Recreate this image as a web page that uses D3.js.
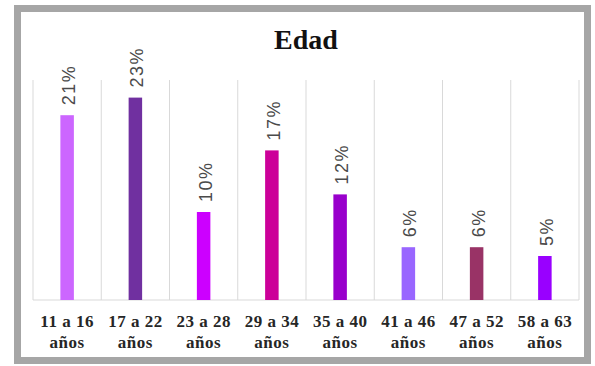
<!DOCTYPE html>
<html>
<head>
<meta charset="utf-8">
<script src="https://cdn.jsdelivr.net/npm/d3@7"></script>
<style>
html,body{margin:0;padding:0;background:#fff;}
svg{display:block;}
</style>
</head>
<body>
<svg id="chart" width="595" height="366"></svg>
<script>
const title = "Edad";
const categories = ["11 a 16", "17 a 22", "23 a 28", "29 a 34", "35 a 40", "41 a 46", "47 a 52", "58 a 63"];
const unitLabel = "años";
const values = [21, 23, 10, 17, 12, 6, 6, 5];
const valueLabels = ["21%", "23%", "10%", "17%", "12%", "6%", "6%", "5%"];
const colors = ["#cc66ff", "#7030a0", "#cc00ff", "#cc0099", "#9900cc", "#9966ff", "#993366", "#9900ff"];
const yMax = 25;

const svg = d3.select("#chart");

// frame
svg.append("rect")
  .attr("x", 17.5).attr("y", 8.5)
  .attr("width", 570).attr("height", 352)
  .attr("fill", "#fff")
  .attr("stroke", "#a6a6a6")
  .attr("stroke-width", 7);

const x = d3.scaleBand().domain(categories).range([33, 579]).padding(0);
const y = d3.scaleLinear().domain([0, yMax]).range([300, 80]);

// vertical gridlines at category boundaries
const bounds = categories.map(c => x(c)).concat([x.range()[1]]);
svg.append("g").selectAll("line").data(bounds).join("line")
  .attr("x1", d => d).attr("x2", d => d)
  .attr("y1", y(yMax)).attr("y2", y(0))
  .attr("stroke", "#d9d9d9").attr("stroke-width", 1);

// baseline
svg.append("line")
  .attr("x1", x.range()[0]).attr("x2", x.range()[1])
  .attr("y1", y(0)).attr("y2", y(0))
  .attr("stroke", "#d9d9d9").attr("stroke-width", 1);

const barW = 13.5;
svg.append("g").selectAll("rect").data(values).join("rect")
  .attr("x", (d, i) => x(categories[i]) + x.bandwidth() / 2 - barW / 2)
  .attr("y", d => y(d))
  .attr("width", barW)
  .attr("height", d => y(0) - y(d))
  .attr("fill", (d, i) => colors[i]);

// value labels, rotated
svg.append("g").selectAll("text").data(values).join("text")
  .attr("transform", (d, i) => `translate(${x(categories[i]) + x.bandwidth() / 2 + 8},${y(d) - 10}) rotate(-90)`)
  .attr("text-anchor", "start")
  .attr("font-family", "Liberation Sans, Arial, sans-serif")
  .attr("font-size", 18)
  .attr("letter-spacing", 1.5)
  .attr("fill", "#4a4a4a")
  .text((d, i) => valueLabels[i]);

// category labels
const lab = svg.append("g").selectAll("text").data(categories).join("text")
  .attr("text-anchor", "middle")
  .attr("font-family", "Liberation Serif, Times New Roman, serif")
  .attr("font-weight", "bold")
  .attr("font-size", 17)
  .attr("letter-spacing", 0.5)
  .attr("fill", "#262626");
lab.append("tspan")
  .attr("x", d => x(d) + x.bandwidth() / 2)
  .attr("y", 327)
  .text(d => d);
lab.append("tspan")
  .attr("x", d => x(d) + x.bandwidth() / 2)
  .attr("y", 348)
  .text(unitLabel);

// title
svg.append("text")
  .attr("x", 306).attr("y", 49)
  .attr("text-anchor", "middle")
  .attr("font-family", "Liberation Serif, Times New Roman, serif")
  .attr("font-weight", "bold")
  .attr("font-size", 28)
  .attr("fill", "#111")
  .text(title);
</script>
</body>
</html>
